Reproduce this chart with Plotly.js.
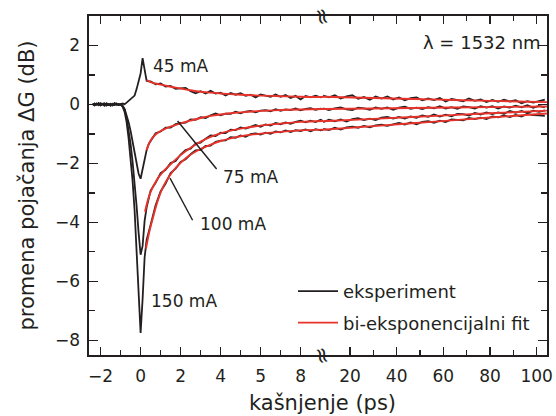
<!DOCTYPE html>
<html><head><meta charset="utf-8">
<script src="https://cdn.plot.ly/plotly-3.0.1.min.js"></script>
<style>html,body{margin:0;padding:0;background:#fff}</style>
</head><body><div id="chart" style="width:556px;height:416px"></div>
<script>
// ---- data (delay in ps, gain change in dB) ----
const tPre = [-2.4,-2.3,-2.2,-2.1,-2.0,-1.9,-1.8,-1.7,-1.6,-1.5,-1.4,-1.3,-1.2,-1.1];
const gPreA = [0.02,-0.03,0.03,-0.02,0.04,-0.01,-0.04,0.03,-0.02,0.02,-0.03,0.04,-0.01,0.01];
const gPreB = [-0.02,0.03,-0.01,0.04,-0.03,0.02,0.03,-0.03,0.01,-0.04,0.02,-0.02,0.03,-0.02];

const tPulse = [-1.0,-0.9,-0.8,-0.7,-0.6,-0.5,-0.4,-0.3,-0.2,-0.1,0.0,0.1,0.2,0.3,0.4];
const g45Pulse  = [0.00,0.03,0.01,0.06,0.12,0.16,0.22,0.30,0.52,0.80,1.05,1.57,1.10,0.80,0.78];
const g75Pulse  = [0.00,-0.05,-0.15,-0.35,-0.60,-0.90,-1.25,-1.60,-2.00,-2.35,-2.52,-2.20,-1.80,-1.55,-1.35];
const g100Pulse = [0.00,-0.05,-0.18,-0.45,-0.85,-1.35,-1.95,-2.65,-3.45,-4.35,-5.10,-4.80,-3.95,-3.50,-3.22];
const g150Pulse = [0.00,-0.08,-0.25,-0.60,-1.15,-1.80,-2.60,-3.60,-4.90,-6.30,-7.75,-6.60,-5.20,-4.60,-4.30];

const tRec = [0.5,0.75,1,1.25,1.5,1.75,2,2.25,2.5,2.75,3,3.25,3.5,3.75,4,4.25,4.5,4.75,5,5.25,5.5,5.75,6,6.25,6.5,6.75,7,7.25,7.5,7.75,8,8.25,8.5,8.75,9,9.12];
const g45Rec  = [0.78,0.68,0.71,0.61,0.63,0.53,0.55,0.56,0.45,0.38,0.45,0.37,0.46,0.37,0.40,0.30,0.39,0.33,0.38,0.29,0.33,0.24,0.34,0.31,0.26,0.34,0.26,0.32,0.22,0.29,0.17,0.29,0.24,0.30,0.24,0.27];
const g75Rec  = [-1.25,-0.98,-0.92,-0.79,-0.79,-0.67,-0.63,-0.62,-0.51,-0.52,-0.43,-0.46,-0.37,-0.31,-0.37,-0.31,-0.32,-0.25,-0.30,-0.24,-0.22,-0.27,-0.21,-0.19,-0.23,-0.16,-0.22,-0.17,-0.19,-0.14,-0.20,-0.15,-0.13,-0.18,-0.14,-0.16];
const g100Rec = [-2.92,-2.66,-2.33,-2.22,-1.99,-1.92,-1.70,-1.55,-1.50,-1.33,-1.30,-1.16,-1.05,-1.07,-0.96,-0.97,-0.86,-0.87,-0.78,-0.82,-0.75,-0.70,-0.76,-0.68,-0.72,-0.63,-0.67,-0.61,-0.66,-0.59,-0.55,-0.61,-0.55,-0.60,-0.52,-0.56];
const g150Rec = [-4.09,-3.42,-2.95,-2.68,-2.33,-2.18,-1.95,-1.86,-1.69,-1.56,-1.54,-1.41,-1.40,-1.27,-1.23,-1.22,-1.11,-1.13,-1.05,-1.10,-1.01,-0.98,-1.02,-0.96,-1.00,-0.92,-0.95,-0.88,-0.94,-0.87,-0.90,-0.85,-0.91,-0.84,-0.88,-0.86];

const tTail = [8.5,11,13.5,16,18.5,21,23.5,26,28.5,31,33.5,36,38.5,41,43.5,46,48.5,51,53.5,56,58.5,61,63.5,66,68.5,71,73.5,76,78.5,81,83.5,86,88.5,91,93.5,96,98.5,101,103.5];
const g45Tail  = [0.30,0.24,0.31,0.20,0.27,0.31,0.19,0.25,0.16,0.27,0.20,0.27,0.17,0.24,0.14,0.21,0.24,0.14,0.20,0.15,0.22,0.10,0.19,0.16,0.11,0.20,0.12,0.17,0.08,0.15,0.09,0.16,0.10,0.14,0.04,0.11,0.06,0.11,0.16];
const g75Tail  = [-0.13,-0.19,-0.13,-0.10,-0.17,-0.19,-0.11,-0.13,-0.18,-0.10,-0.15,-0.10,-0.18,-0.11,-0.08,-0.15,-0.11,-0.16,-0.09,-0.13,-0.06,-0.14,-0.09,-0.15,-0.07,-0.09,-0.14,-0.06,-0.11,-0.06,-0.14,-0.07,-0.11,-0.04,-0.10,-0.03,-0.11,-0.05,-0.10];
const g100Tail = [-0.60,-0.52,-0.57,-0.51,-0.58,-0.50,-0.47,-0.53,-0.48,-0.53,-0.45,-0.42,-0.48,-0.42,-0.48,-0.41,-0.45,-0.37,-0.42,-0.34,-0.41,-0.35,-0.40,-0.32,-0.33,-0.38,-0.29,-0.34,-0.27,-0.33,-0.27,-0.32,-0.22,-0.28,-0.22,-0.29,-0.21,-0.25,-0.20];
const g150Tail = [-0.83,-0.87,-0.79,-0.85,-0.78,-0.75,-0.79,-0.73,-0.78,-0.71,-0.69,-0.73,-0.68,-0.63,-0.68,-0.61,-0.67,-0.59,-0.57,-0.62,-0.55,-0.60,-0.51,-0.52,-0.54,-0.46,-0.50,-0.45,-0.50,-0.41,-0.44,-0.37,-0.43,-0.36,-0.41,-0.32,-0.36,-0.37,-0.39];

// bi-exponential fits
const tFit45  = [0.3,0.5,0.75,1.0,1.5,2.0,2.5,3.0,3.5,4.0,4.5,5.0,6.0,7.0,8.0,9.12];
const fit45   = [0.83,0.76,0.71,0.67,0.60,0.54,0.48,0.43,0.40,0.37,0.35,0.33,0.30,0.28,0.26,0.25];
const tFit75  = [0.3,0.5,0.75,1.0,1.25,1.5,2.0,2.5,3.0,3.5,4.0,4.5,5.0,6.0,7.0,8.0,9.12];
const fit75   = [-1.55,-1.22,-1.02,-0.90,-0.82,-0.75,-0.64,-0.55,-0.46,-0.39,-0.34,-0.30,-0.27,-0.22,-0.19,-0.17,-0.155];
const tFit100 = [0.22,0.47,0.8,1.13,1.47,2.0,2.5,3.0,3.5,4.0,4.5,5.0,6.0,7.0,8.0,9.12];
const fit100  = [-3.64,-3.02,-2.57,-2.28,-2.05,-1.72,-1.47,-1.26,-1.10,-0.98,-0.89,-0.82,-0.72,-0.65,-0.59,-0.56];
const tFit150 = [0.27,0.45,0.63,0.85,1.13,1.45,1.8,2.3,2.8,3.5,4.0,4.5,5.0,6.0,7.0,8.0,9.12];
const fit150  = [-4.89,-4.28,-3.81,-3.28,-2.79,-2.42,-2.12,-1.80,-1.58,-1.36,-1.24,-1.15,-1.08,-0.99,-0.93,-0.88,-0.855];
const tFitTail  = [8.43,30,55,80,104.4];
const fit45Tail  = [0.26,0.22,0.17,0.12,0.08];
const fit75Tail  = [-0.155,-0.136,-0.113,-0.091,-0.07];
const fit100Tail = [-0.57,-0.49,-0.395,-0.30,-0.21];
const fit150Tail = [-0.86,-0.735,-0.59,-0.445,-0.305];

const leftTicks = [-2,0,2,4,6,8];
const leftTickText = ['\u22122','0','2','4','5','8'];
const leftMinor = [-1,1,3,5,7];
const rightTicks = [20,40,60,80,100];
const rightMinor = [30,50,70,90];

// ---- styling ----
const BLACK = '#231f20', RED = '#e8332b';
const FONT = 'DejaVu Sans';

const traces = [];
function addExp(pre, pulse, rec, tail, legend) {
  traces.push({x: tPre.concat(tPulse, tRec), y: pre.concat(pulse, rec), xaxis:'x', yaxis:'y',
    mode:'lines', line:{color:BLACK, width:1.8}, name:'eksperiment', showlegend:legend, legendgroup:'a'});
  traces.push({x: tTail, y: tail, xaxis:'x2', yaxis:'y2', mode:'lines',
    line:{color:BLACK, width:1.8}, showlegend:false, legendgroup:'a'});
}
function addFit(t, f, tail, legend) {
  traces.push({x: t, y: f, xaxis:'x', yaxis:'y', mode:'lines', line:{color:RED, width:1.9, shape:'spline'},
    name:'bi-eksponencijalni fit', showlegend:legend, legendgroup:'b'});
  traces.push({x: tFitTail, y: tail, xaxis:'x2', yaxis:'y2', mode:'lines',
    line:{color:RED, width:1.9, shape:'spline'}, showlegend:false, legendgroup:'b'});
}
addExp(gPreA, g45Pulse, g45Rec, g45Tail, true);
addExp(gPreB, g75Pulse, g75Rec, g75Tail, false);
addExp(gPreA, g100Pulse, g100Rec, g100Tail, false);
addExp(gPreB, g150Pulse, g150Rec, g150Tail, false);
addFit(tFit45, fit45, fit45Tail, true);
addFit(tFit75, fit75, fit75Tail, false);
addFit(tFit100, fit100, fit100Tail, false);
addFit(tFit150, fit150, fit150Tail, false);

const split = 0.5109;
const tickFont = {family: FONT, size: 17, color: BLACK};
const axCommon = {showline:true, linecolor:BLACK, linewidth:1.6, showgrid:false, zeroline:false,
  ticks:'inside', tickcolor:BLACK, tickwidth:1.3, tickfont:tickFont};

const layout = {
  width:556, height:416,
  margin:{l:89, r:9, t:16, b:61},
  paper_bgcolor:'#fff', plot_bgcolor:'#fff',
  font:{family:FONT, color:BLACK},
  showlegend:true,
  legend:{x:(293-89)/458, y:(355-273)/339, xanchor:'left', yanchor:'top', bgcolor:'rgba(0,0,0,0)',
    font:{family:FONT, size:18, color:BLACK}, tracegroupgap:5, itemwidth:40, traceorder:'grouped'},
  xaxis: Object.assign({}, axCommon, {domain:[0, split], range:[-2.58, 9.12], anchor:'y',
    tickmode:'array', tickvals:leftTicks, ticktext:leftTickText, ticklen:8, mirror:'ticks', ticklabelstandoff:5,
    minor:{tickmode:'array', tickvals:leftMinor, ticks:'inside', ticklen:5, tickcolor:BLACK, tickwidth:1.3, showgrid:false}}),
  xaxis2: Object.assign({}, axCommon, {domain:[split, 1], range:[8.43, 104.43], anchor:'y2',
    tickmode:'array', tickvals:rightTicks, ticklen:8, mirror:'ticks', ticklabelstandoff:5,
    minor:{tickmode:'array', tickvals:rightMinor, ticks:'inside', ticklen:5, tickcolor:BLACK, tickwidth:1.3, showgrid:false}}),
  yaxis: Object.assign({}, axCommon, {domain:[0,1], range:[-8.5, 3.0], anchor:'x',
    tickmode:'linear', tick0:0, dtick:2, ticklen:9, ticklabelstandoff:4,
    minor:{tick0:1, dtick:2, ticks:'inside', ticklen:6, tickcolor:BLACK, tickwidth:1.3, showgrid:false},
    title:{text:'promena pojačanja ΔG (dB)', font:{family:FONT, size:21, color:BLACK}, standoff:14}}),
  yaxis2: Object.assign({}, axCommon, {domain:[0,1], range:[-8.5, 3.0], anchor:'x2', side:'right',
    matches:'y', showticklabels:false, tickmode:'linear', tick0:0, dtick:2, ticklen:9,
    minor:{tick0:1, dtick:2, ticks:'inside', ticklen:6, tickcolor:BLACK, tickwidth:1.3, showgrid:false}}),
  shapes:[
    {type:'line', xref:'x', yref:'y', x0:1.85, y0:-0.56, x1:3.8, y1:-2.19, line:{color:BLACK, width:1.4}},
    {type:'line', xref:'x', yref:'y', x0:1.47, y0:-2.5, x1:2.6, y1:-3.93, line:{color:BLACK, width:1.4}}
  ],
  annotations:[
    {xref:'x', yref:'y', x:0.52, y:1.31, text:'45 mA', showarrow:false, xanchor:'left', yanchor:'middle', font:{family:FONT, size:17, color:BLACK}},
    {xref:'x', yref:'y', x:4.0, y:-2.45, text:'75 mA', showarrow:false, xanchor:'left', yanchor:'middle', font:{family:FONT, size:17, color:BLACK}},
    {xref:'x', yref:'y', x:2.85, y:-4.05, text:'100 mA', showarrow:false, xanchor:'left', yanchor:'middle', font:{family:FONT, size:17, color:BLACK}},
    {xref:'x', yref:'y', x:0.43, y:-6.67, text:'150 mA', showarrow:false, xanchor:'left', yanchor:'middle', font:{family:FONT, size:17, color:BLACK}},
    {xref:'x2', yref:'y2', x:102.7, y:2.1, text:'λ = 1532 nm', showarrow:false, xanchor:'right', yanchor:'middle', font:{family:FONT, size:18, color:BLACK}},
    {xref:'paper', yref:'paper', x:split, y:-0.1416, text:'kašnjenje (ps)', showarrow:false, xanchor:'center', yanchor:'middle', font:{family:FONT, size:21, color:BLACK}},
    {xref:'paper', yref:'paper', x:split, y:0, text:'≈', textangle:75, showarrow:false, xanchor:'center', yanchor:'middle', font:{family:FONT, size:22, color:BLACK}},
    {xref:'paper', yref:'paper', x:split, y:1, text:'≈', textangle:75, showarrow:false, xanchor:'center', yanchor:'middle', font:{family:FONT, size:22, color:BLACK}}
  ]
};

Plotly.newPlot('chart', traces, layout, {staticPlot:true, displayModeBar:false});
</script></body></html>
